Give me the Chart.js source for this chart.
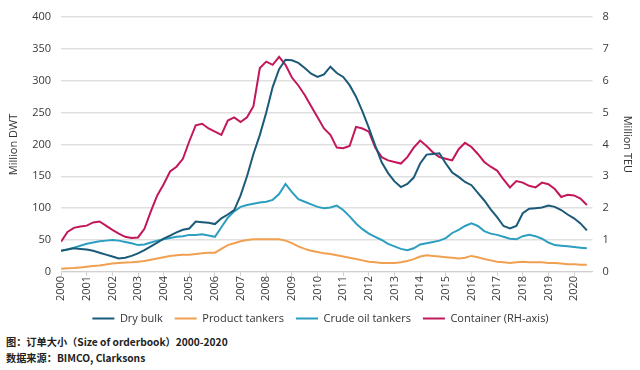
<!DOCTYPE html>
<html>
<head>
<meta charset="utf-8">
<script src="https://cdn.jsdelivr.net/npm/chart.js@4.4.1/dist/chart.umd.min.js"></script>
<style>
  html, body { margin: 0; padding: 0; background: #fff; width: 640px; height: 370px; overflow: hidden; }
  #wrap { position: absolute; left: 0; top: 0; width: 640px; height: 334px; }
  .cap { position: absolute; left: 6px; font-family: "Noto Sans CJK SC", "Open Sans", sans-serif; font-weight: bold; font-size: 10.2px; color: #222; }
</style>
</head>
<body>
<div id="wrap"><canvas id="c"></canvas></div>
<div class="cap" style="top:334px;">图：订单大小（Size of orderbook）2000-2020</div>
<div class="cap" style="top:350px;">数据来源：BIMCO, Clarksons</div>
<script>
// Quarterly observations starting 2000.00
const startYear = 2000;
const yearTicks = [2000,2001,2002,2003,2004,2005,2006,2007,2008,2009,2010,2011,2012,2013,2014,2015,2016,2017,2018,2019,2020];
const seriesNames = ["Dry bulk", "Product tankers", "Crude oil tankers", "Container (RH-axis)"];

const dryBulk = [33,35,37,36, 35,33,30,27, 24,21,22,25, 29,34,40,46, 52,57,62,66, 68,79,78,77,
  75,84,90,97, 120,150,185,215, 250,290,318,333, 332,328,320,311, 306,310,322,312, 306,293,275,252,
  226,198,172,155, 142,133,138,148, 170,184,185,186, 170,156,149,141, 136,124,112,98, 86,72,68,72,
  92,99,100,101, 104,102,97,90, 84,76,65];
const productTankers = [5,5.5,6,7, 8,9,10,11.5, 13,14,14.5,15, 16,17,19,21, 23,25,26,27, 27,28,29,30,
  30,36,42,45, 48,50,51,51, 51,51,51,49, 45,40,36,33, 31,29,28,26, 24,22,20,18,
  16,15,14,14, 14,15,17,20, 24,26,25,24, 23,22,21,22, 25,23,20,18, 16,15,14,15,
  16,15,15,15, 14,14,13,12, 12,11,11];
const crudeTankers = [33,35,38,41, 44,46,48,49, 50,49,47,45, 42,43,46,49, 51,53,55,56, 58,58,59,57,
  55,70,85,95, 102,105,107,109, 110,113,122,138, 125,114,110,106, 102,100,101,104, 97,87,76,67,
  60,55,50,44, 40,36,34,37, 43,45,47,49, 53,61,66,72, 76,72,64,60, 58,55,52,51,
  56,58,56,52, 46,42,41,40, 39,38,37];
const container = [0.95,1.25,1.38,1.42, 1.45,1.55,1.58,1.45, 1.32,1.2,1.1,1.06, 1.08,1.35,1.9,2.4,
  2.75,3.15,3.3,3.55, 4.1,4.6,4.65,4.5, 4.4,4.3,4.75,4.85, 4.7,4.85,5.2,6.4, 6.6,6.5,6.75,6.5,
  6.1,5.85,5.55,5.2, 4.85,4.5,4.3,3.9, 3.88,3.95,4.55,4.5, 4.4,3.9,3.6,3.5, 3.45,3.4,3.6,3.9,
  4.12,3.95,3.75,3.6, 3.55,3.5,3.85,4.05, 3.92,3.7,3.45,3.3, 3.18,2.9,2.65,2.85, 2.8,2.7,2.65,2.8,
  2.75,2.6,2.35,2.42, 2.4,2.3,2.1];

const colors = ["#1b5a78", "#f0a050", "#2c9fc0", "#c2185b"];
const toPts = arr => arr.map((v, i) => ({ x: startYear + i / 4, y: v }));

const font = { family: "'Open Sans', sans-serif", size: 11 };
Chart.defaults.color = "#3a3a3a";

new Chart(document.getElementById("c"), {
  type: "line",
  data: {
    datasets: [
      { label: seriesNames[0], data: toPts(dryBulk), borderColor: colors[0], backgroundColor: colors[0], yAxisID: "y" },
      { label: seriesNames[1], data: toPts(productTankers), borderColor: colors[1], backgroundColor: colors[1], yAxisID: "y" },
      { label: seriesNames[2], data: toPts(crudeTankers), borderColor: colors[2], backgroundColor: colors[2], yAxisID: "y" },
      { label: seriesNames[3], data: toPts(container), borderColor: colors[3], backgroundColor: colors[3], yAxisID: "y1" }
    ]
  },
  options: {
    responsive: true,
    maintainAspectRatio: false,
    animation: false,
    layout: { padding: { left: 5, right: 4, top: 17, bottom: 0 } },
    elements: { line: { borderWidth: 2, tension: 0 }, point: { radius: 0 } },
    plugins: {
      tooltip: { enabled: false },
      legend: {
        position: "bottom",
        labels: {
          font: font, color: "#333", boxWidth: 22, boxHeight: 2, padding: 12,
          generateLabels(chart) {
            return Chart.defaults.plugins.legend.labels.generateLabels(chart).map(l => ({ ...l, lineWidth: 0, fillStyle: colors[l.datasetIndex] }));
          }
        }
      }
    },
    scales: {
      x: {
        type: "linear", min: 2000, max: 2020.72,
        afterBuildTicks(scale) { scale.ticks = yearTicks.map(v => ({ value: v })); },
        ticks: { font: font, minRotation: 90, maxRotation: 90, autoSkip: false, callback: v => String(v), padding: 0 },
        grid: { drawOnChartArea: false, drawTicks: true, tickLength: 4, color: "#d0d0d0" },
        border: { color: "#d0d0d0" }
      },
      y: {
        position: "left", min: 0, max: 400,
        ticks: { stepSize: 50, font: font, padding: 10 },
        grid: { color: "#e0e0e0", lineWidth: 1.5, drawTicks: false },
        border: { display: false },
        title: { display: true, text: "Million DWT", font: font, color: "#333", padding: 2 }
      },
      y1: {
        position: "right", min: 0, max: 8,
        ticks: { stepSize: 1, font: font, padding: 10 },
        grid: { drawOnChartArea: false, drawTicks: false },
        border: { display: false },
        title: { display: true, text: "Million TEU", font: font, color: "#333", padding: 2 }
      }
    }
  }
});
</script>
</body>
</html>
